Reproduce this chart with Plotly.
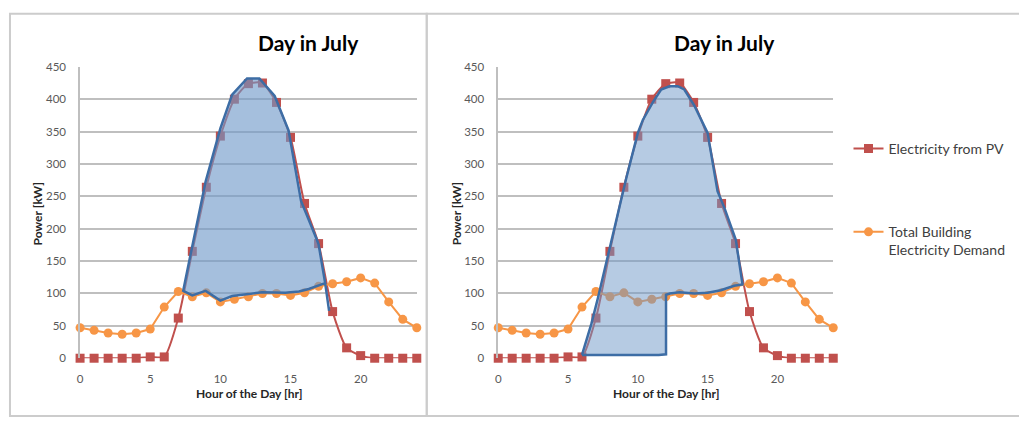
import plotly.graph_objects as go

# Hourly profile for a day in July
hours = list(range(25))
pv_kw = [0, 0, 0, 0, 0, 2, 2, 62, 165, 264, 343, 400, 424, 425, 395, 341,
         239, 177, 72, 16, 4, 0, 0, 0, 0]
demand_kw = [47, 43, 39, 37, 39, 45, 79, 103, 95, 101, 87, 91, 95, 100, 100,
             97, 101, 111, 115, 118, 124, 116, 87, 60, 47]

# Hand-drawn highlight regions (hour, kW)
left_region_x = [17.75, 17.47, 17.0, 16.88, 15.75, 14.86, 13.87, 12.78, 11.9,
                 10.84, 10.0, 8.95, 7.95, 7.35, 8.0, 8.95, 10.0, 10.84, 12.02,
                 12.97, 14.63, 15.6, 16.3, 17.47]
left_region_y = [73, 116, 176, 183, 243, 352, 405, 432, 432, 407, 355, 273,
                 168, 104, 97, 104, 89, 96, 99, 102, 101, 103, 107, 116]

right_region_x = [6.0, 6.67, 7.14, 7.74, 8.57, 9.17, 10.0, 10.36, 11.07, 11.67,
                  12.26, 12.86, 13.33, 14.05, 15.0, 15.71, 16.19, 17.02, 17.5,
                  16.9, 15.95, 15.0, 14.05, 12.98, 12.3, 12.02, 12.02, 11.5, 6.0]
right_region_y = [5, 53, 93, 148, 223, 278, 348, 368, 395, 415, 420, 420, 415,
                  390, 348, 258, 233, 183, 114, 112, 105, 101, 100, 102, 100,
                  98, 6, 5, 5]

W, H = 1019, 425
RED = "#C0504D"
ORANGE = "#F79646"
BLUE_LINE = "#3D6DA5"
FONT = "Lato"


def px(x):
    return x / W


def py(y):
    return 1 - y / H


fig = go.Figure()

panels = [
    ("x", "y", left_region_x, left_region_y, "rgba(109,151,200,0.62)", True),
    ("x2", "y2", right_region_x, right_region_y, "rgba(109,151,200,0.50)", False),
]

for xa, ya, rx, ry, fill, show in panels:
    fig.add_trace(go.Scatter(
        x=hours, y=pv_kw, xaxis=xa, yaxis=ya, mode="lines+markers",
        name="Electricity from PV", legendgroup="pv", showlegend=show,
        line=dict(color=RED, width=2, shape="spline", smoothing=0.6),
        marker=dict(symbol="square", size=9, color=RED),
        cliponaxis=False,
    ))
    fig.add_trace(go.Scatter(
        x=hours, y=demand_kw, xaxis=xa, yaxis=ya, mode="lines+markers",
        name="Total Building<br>Electricity Demand", legendgroup="demand",
        showlegend=show,
        line=dict(color=ORANGE, width=2),
        marker=dict(symbol="circle", size=9, color=ORANGE),
        cliponaxis=False,
    ))
    fig.add_trace(go.Scatter(
        x=rx, y=ry, xaxis=xa, yaxis=ya, mode="lines", fill="toself",
        fillcolor=fill, line=dict(color=BLUE_LINE, width=2.5),
        showlegend=False, hoverinfo="skip", cliponaxis=False,
    ))

xdom = {"left": (77.3, 415.0), "right": (496.7, 832.7)}
ydom = [py(362.3), py(61.7)]

axis_common_y = dict(
    range=[0, 450], tickvals=list(range(0, 451, 50)), showgrid=True,
    gridcolor="#BFBFBF", gridwidth=1.5, showline=True, linecolor="#BFBFBF",
    linewidth=1.5, zeroline=False, ticks="", ticklabelstandoff=10,
    tickfont=dict(family=FONT, size=11.5, color="#595959"), fixedrange=True,
)
axis_common_x = dict(
    range=[0, 24], tickvals=[0, 5, 10, 15, 20], showgrid=False,
    showline=False, zeroline=False, ticks="", ticklabelstandoff=12,
    tickfont=dict(family=FONT, size=11.5, color="#595959"), fixedrange=True,
)

fig.update_layout(
    width=W, height=H, margin=dict(l=0, r=0, t=0, b=0),
    paper_bgcolor="white", plot_bgcolor="white",
    xaxis=dict(domain=[px(xdom["left"][0]), px(xdom["left"][1])], anchor="y",
               **axis_common_x),
    yaxis=dict(domain=ydom, anchor="x", **axis_common_y),
    xaxis2=dict(domain=[px(xdom["right"][0]), px(xdom["right"][1])], anchor="y2",
                **axis_common_x),
    yaxis2=dict(domain=ydom, anchor="x2", **axis_common_y),
    legend=dict(
        x=px(848), y=py(130), xanchor="left", yanchor="top",
        font=dict(family=FONT, size=14, color="#404040"),
        traceorder="grouped", tracegroupgap=62, itemwidth=30, valign="top",
        bgcolor="rgba(0,0,0,0)",
    ),
    showlegend=True,
)

annotations = []
for cx in (306, 724):
    annotations.append(dict(
        text="<b>Day in July</b>", x=px(cx), y=py(37), xref="paper", yref="paper",
        xanchor="center", yanchor="middle", showarrow=False,
        font=dict(family=FONT, size=21, color="#000000"),
    ))
for cx in (35, 455):
    annotations.append(dict(
        text="<b>Power [kW]</b>", x=px(cx), y=py(213), xref="paper", yref="paper",
        xanchor="center", yanchor="middle", showarrow=False, textangle=-90,
        font=dict(family=FONT, size=12, color="#262626"),
    ))
for cx in (247, 665):
    annotations.append(dict(
        text="<b>Hour of the Day [hr]</b>", x=px(cx), y=py(399), xref="paper",
        yref="paper", xanchor="center", yanchor="middle", showarrow=False,
        font=dict(family=FONT, size=12, color="#262626"),
    ))
fig.update_layout(annotations=annotations)

# Chart frames
frame = dict(type="rect", xref="paper", yref="paper",
             line=dict(color="#CCCCCC", width=2), fillcolor="rgba(0,0,0,0)",
             layer="below")
fig.add_shape(x0=px(7), x1=px(425), y0=py(422), y1=py(7), **frame)
fig.add_shape(x0=px(425), x1=px(1030), y0=py(422), y1=py(7), **frame)

fig.write_html("out.html")
